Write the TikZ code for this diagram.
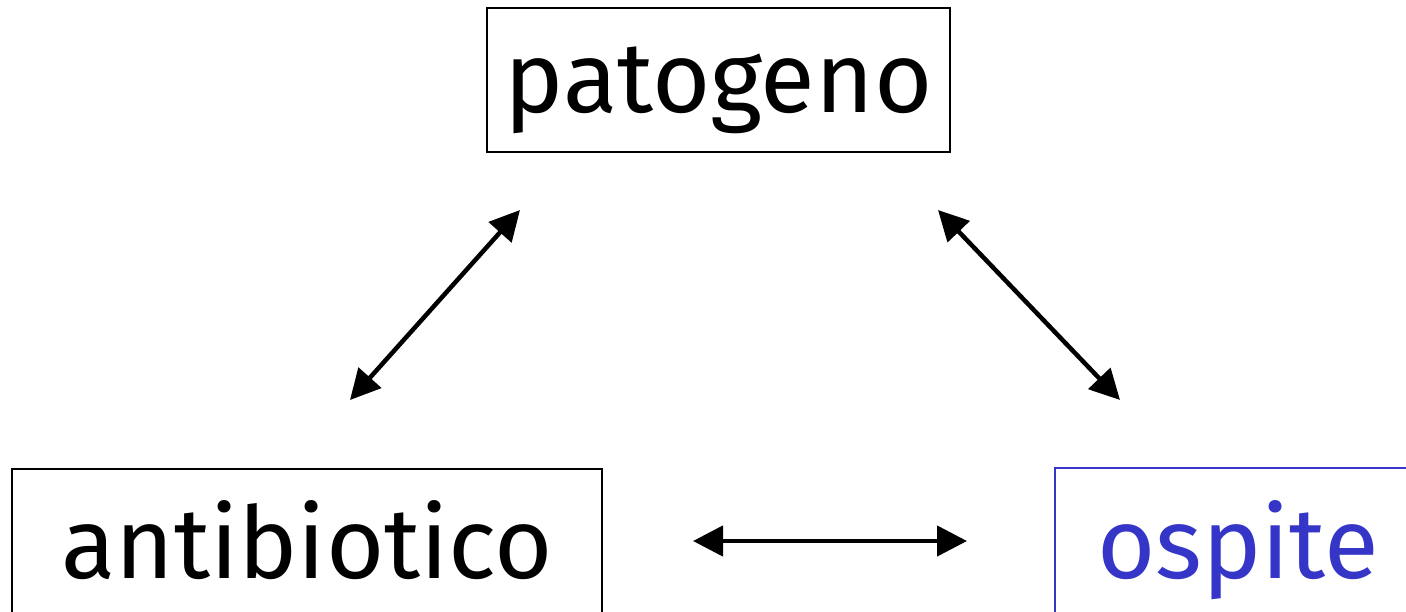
\documentclass[tikz,border=0pt]{standalone}
\usepackage{fontspec}
\setmainfont{Fira Sans}
\usetikzlibrary{arrows.meta}
\definecolor{hostblue}{HTML}{3535C8}
\tikzset{
  box/.style={draw, line width=2pt, inner sep=0pt, align=center, font=\fontsize{100}{100}\selectfont},
  link/.style={line width=4.5pt, {Triangle[length=30pt,width=30pt]}-{Triangle[length=30pt,width=30pt]}}
}
\begin{document}
\begin{tikzpicture}[x=1pt,y=-1pt]
\useasboundingbox (0,0) rectangle (1406,611);
\fill[white] (0,0) rectangle (1406,611);
\begin{scope}
\clip (0,0) rectangle (1406,611);
\node[box, minimum width=463pt, text height=104pt, text depth=40pt, anchor=base] (pat) at (718.5,112) {patogeno};
\node[box, minimum width=590pt, text height=109pt, text depth=82pt, anchor=base] (ant) at (307,578) {antibiotico};
\node[box, draw=hostblue, text=hostblue, minimum width=366pt, text height=110pt, text depth=82pt, anchor=base] (osp) at (1238,578) {ospite};
\end{scope}
\coordinate (a1) at (350,400);
\coordinate (a2) at (520,210);
\coordinate (b1) at (938,210);
\coordinate (b2) at (1120,400);
\coordinate (c1) at (693,541);
\coordinate (c2) at (967,541);
\draw[link] (a1) -- (a2);
\draw[link] (b1) -- (b2);
\draw[link] (c1) -- (c2);
\end{tikzpicture}
\end{document}
